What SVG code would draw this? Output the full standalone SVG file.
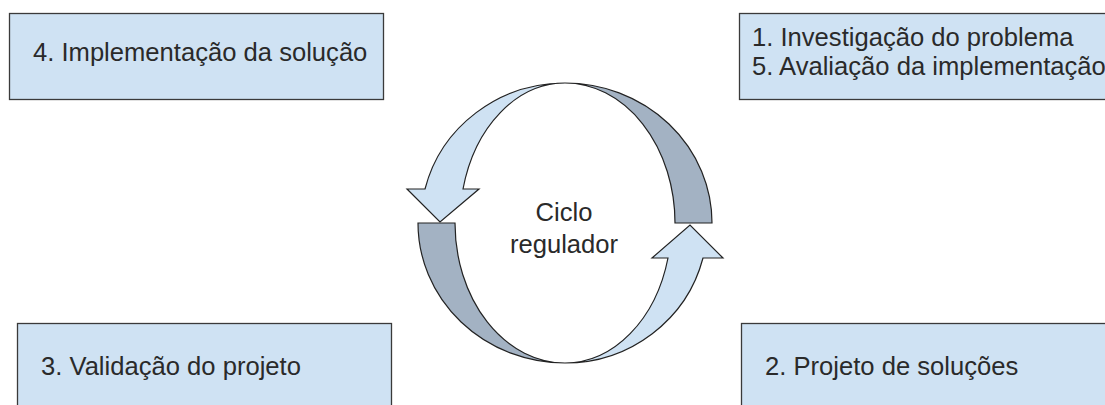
<svg xmlns="http://www.w3.org/2000/svg" width="1105" height="405" viewBox="0 0 1105 405">
<style>
.box{fill:#cfe2f3;stroke:#3a3a3a;stroke-width:1.3}
.lt{fill:#cfe2f3;stroke:#222;stroke-width:1.2;stroke-linejoin:miter}
.dk{fill:#a3b2c3;stroke:#222;stroke-width:1.2}
.t{font-family:"Liberation Sans",Arial,sans-serif;font-size:25.6px;fill:#2a2a2a}
</style>
<rect width="1105" height="405" fill="#ffffff"/>
<g id="node-4">
<rect class="box" x="9.5" y="13.5" width="374" height="86"/>
<text class="t" x="33" y="61">4. Implementação da solução</text>
</g>
<g id="node-1-5">
<rect class="box" x="739.5" y="13.5" width="400" height="86"/>
<text class="t" x="752" y="46">1. Investigação do problema</text>
<text class="t" x="752" y="75">5. Avaliação da implementação</text>
</g>
<g id="node-3">
<rect class="box" x="17.5" y="323.5" width="374" height="100"/>
<text class="t" x="41" y="375">3. Validação do projeto</text>
</g>
<g id="node-2">
<rect class="box" x="741.5" y="323.5" width="400" height="100"/>
<text class="t" x="765" y="375">2. Projeto de soluções</text>
</g>
<g id="connectors">
<path class="dk" d="M565,83 A147,140 0 0 1 712,223 L675,223 A110,140 0 0 0 565,83 Z"/>
<path class="dk" d="M418,223 A147,140 0 0 0 565,363 A110,140 0 0 1 455,223 Z"/>
<path class="lt" d="M565,83 A144.3,140 0 0 0 425,189 L407,189 L440,222 L479,189 L463,189 A105,140 0 0 1 565,83 Z"/>
<path class="lt" d="M565,363 A142.5,140 0 0 0 703,258 L723,258 L690,225 L652,258 L668,258 A106.4,140 0 0 1 565,363 Z"/>
</g>
<g id="node-center">
<text class="t" x="564" y="221" text-anchor="middle">Ciclo</text>
<text class="t" x="564" y="253" text-anchor="middle">regulador</text>
</g>
</svg>
